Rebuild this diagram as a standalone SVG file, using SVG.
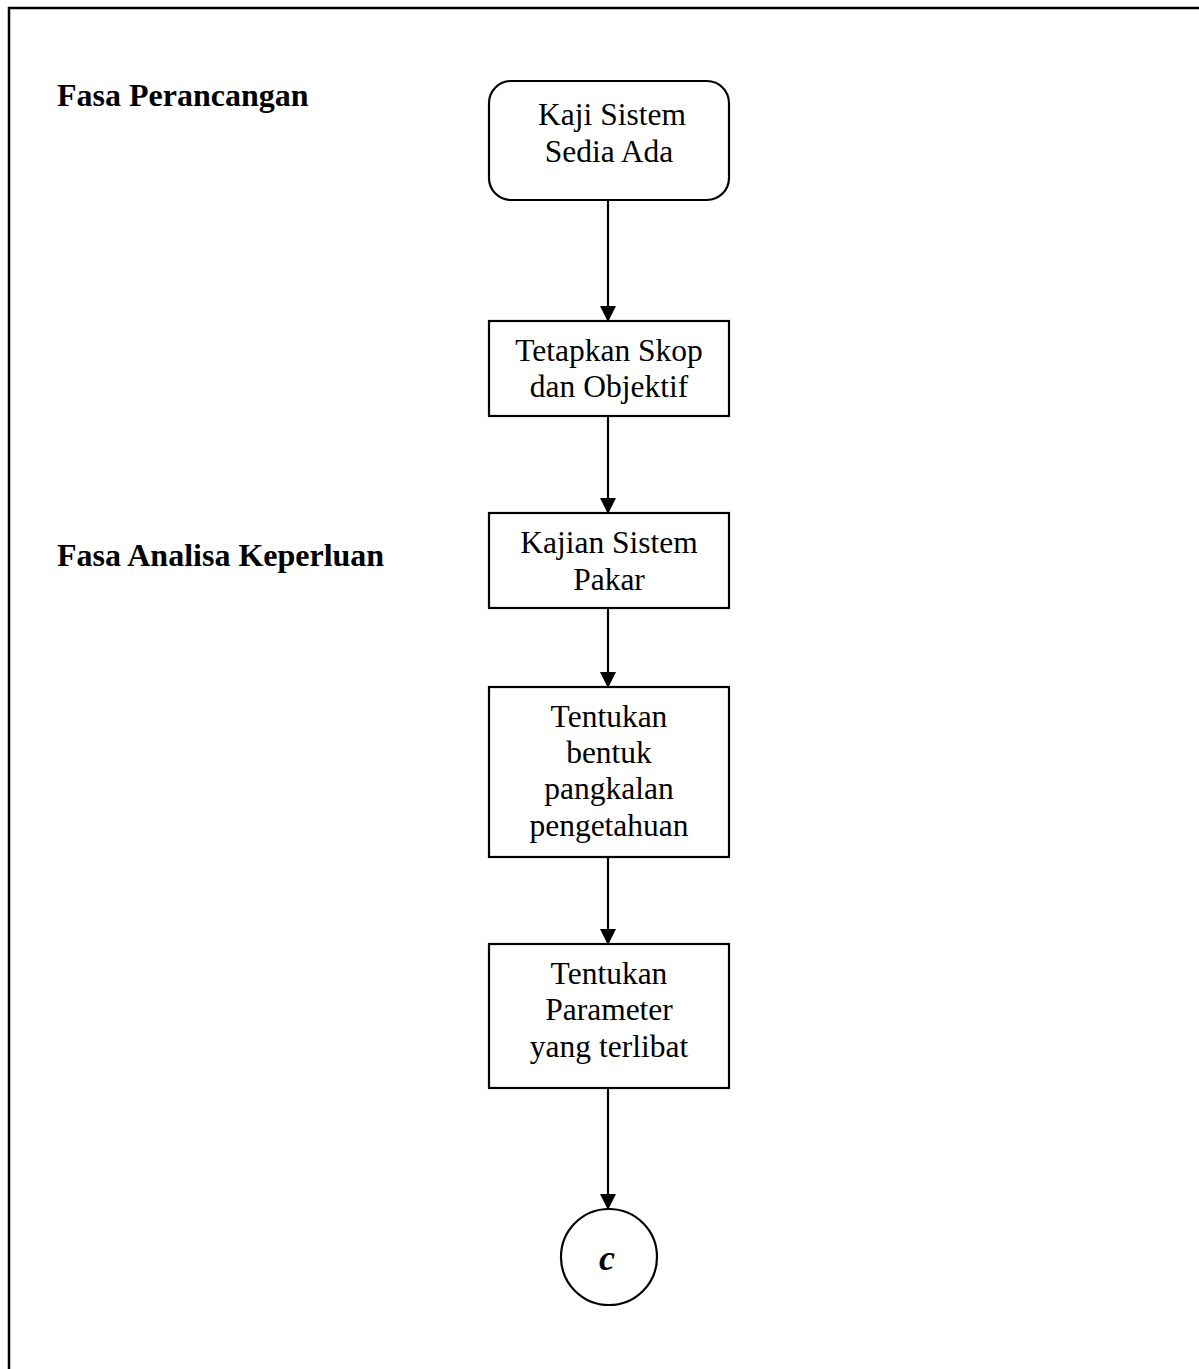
<svg xmlns="http://www.w3.org/2000/svg" width="1199" height="1369" viewBox="0 0 1199 1369">
<style>
.box{fill:#fff;stroke:#000;stroke-width:2.2}
.t{font-family:"Liberation Serif","Times New Roman",serif;font-size:31.5px;fill:#000;text-anchor:middle}
.h{font-family:"Liberation Serif","Times New Roman",serif;font-size:32px;font-weight:bold;fill:#000}
.c{stroke:#000;stroke-width:2.2;fill:none}
</style>
<defs>
<marker id="ah" markerUnits="userSpaceOnUse" markerWidth="16" markerHeight="18" refX="15" refY="8" orient="auto" viewBox="0 0 16 16">
<path d="M0,0 L16,8 L0,16 Z" fill="#000"/>
</marker>
</defs>
<rect width="1199" height="1369" fill="#fff"/>
<g id="frame"><path d="M9,1369 V8 H1199" fill="none" stroke="#000" stroke-width="2.5"/></g>
<g id="label-perancangan"><text class="h" x="57" y="106">Fasa Perancangan</text></g>
<g id="label-analisa"><text class="h" x="57" y="566">Fasa Analisa Keperluan</text></g>
<g id="connectors">
<line class="c" x1="608" y1="200" x2="608" y2="321" marker-end="url(#ah)"/>
<line class="c" x1="608" y1="416" x2="608" y2="513" marker-end="url(#ah)"/>
<line class="c" x1="608" y1="608" x2="608" y2="687" marker-end="url(#ah)"/>
<line class="c" x1="608" y1="857" x2="608" y2="944" marker-end="url(#ah)"/>
<line class="c" x1="608" y1="1088" x2="608" y2="1209" marker-end="url(#ah)"/>
</g>
<g id="n1"><rect class="box" x="489" y="81" width="240" height="119" rx="22"/>
<text class="t" x="612" y="125">Kaji Sistem</text><text class="t" x="609" y="162">Sedia Ada</text></g>
<g id="n2"><rect class="box" x="489" y="321" width="240" height="95"/>
<text class="t" x="609" y="361">Tetapkan Skop</text><text class="t" x="609" y="397">dan Objektif</text></g>
<g id="n3"><rect class="box" x="489" y="513" width="240" height="95"/>
<text class="t" x="609" y="553">Kajian Sistem</text><text class="t" x="609" y="590">Pakar</text></g>
<g id="n4"><rect class="box" x="489" y="687" width="240" height="170"/>
<text class="t" x="609" y="727">Tentukan</text><text class="t" x="609" y="763">bentuk</text><text class="t" x="609" y="799">pangkalan</text><text class="t" x="609" y="836">pengetahuan</text></g>
<g id="n5"><rect class="box" x="489" y="944" width="240" height="144"/>
<text class="t" x="609" y="984">Tentukan</text><text class="t" x="609" y="1020">Parameter</text><text class="t" x="609" y="1057">yang terlibat</text></g>
<g id="n6"><circle class="box" cx="609" cy="1257" r="48"/>
<text x="607" y="1270" font-family="Liberation Serif, serif" font-size="36" font-weight="bold" font-style="italic" text-anchor="middle">c</text></g>
</svg>
